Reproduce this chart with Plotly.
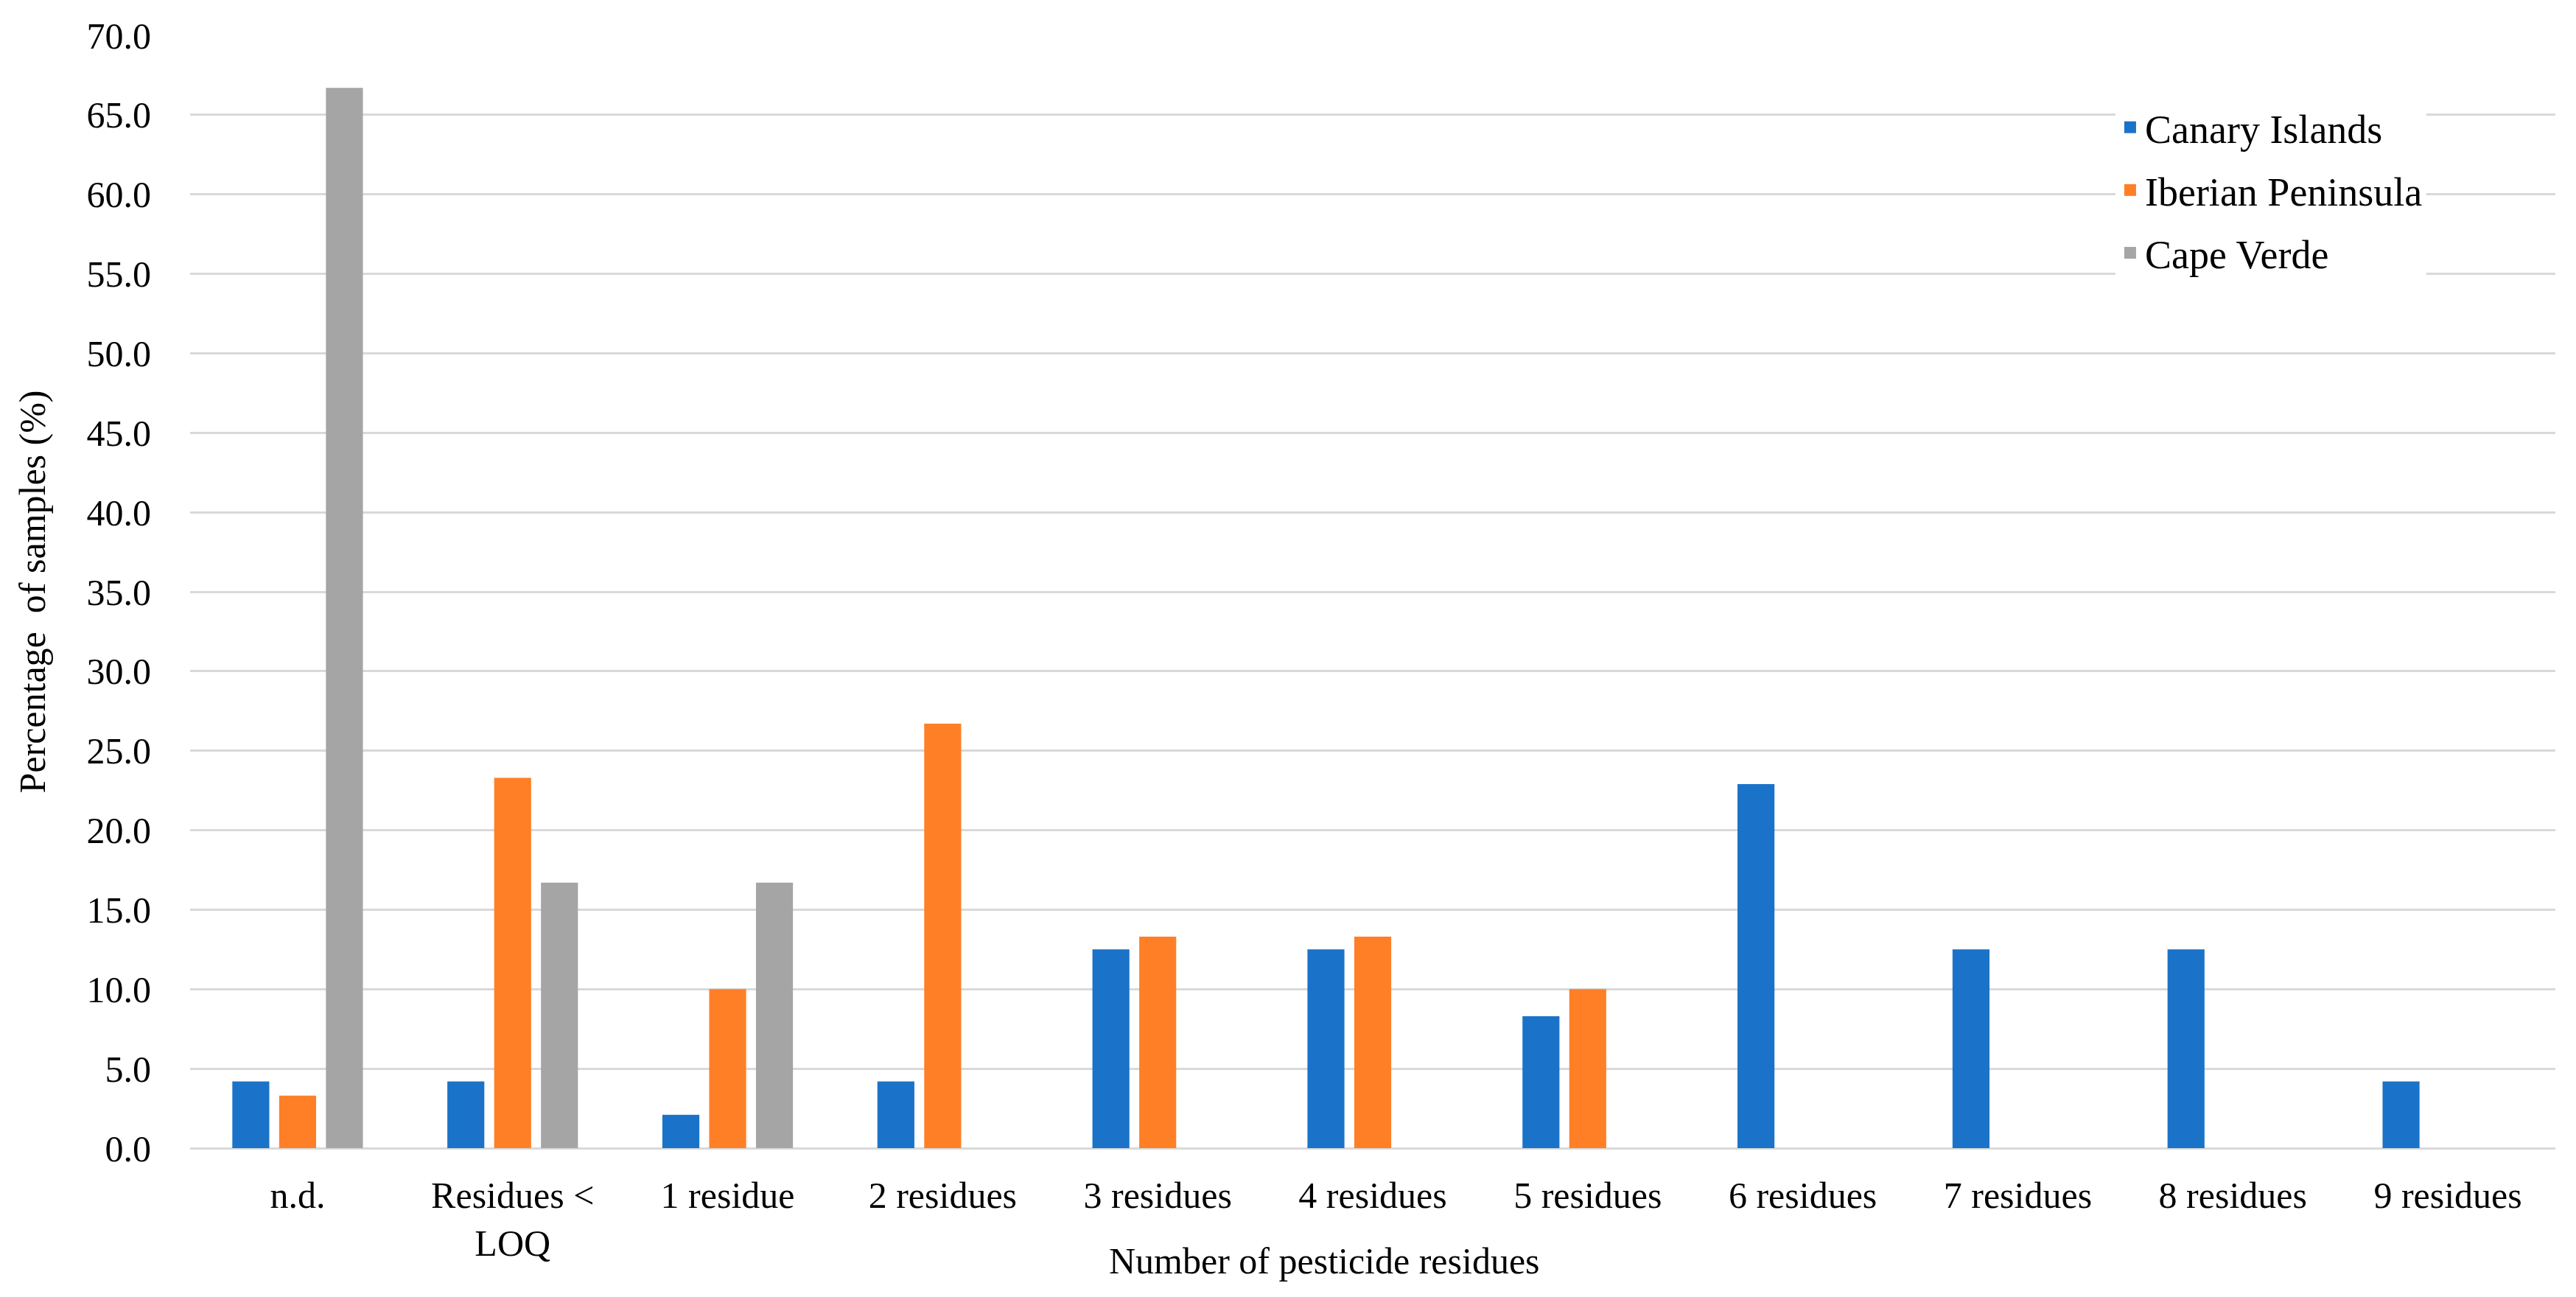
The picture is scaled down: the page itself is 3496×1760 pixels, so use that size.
import plotly.graph_objects as go

categories = ["n.d.", "Residues &lt;<br>LOQ", "1 residue", "2 residues", "3 residues",
              "4 residues", "5 residues", "6 residues", "7 residues", "8 residues", "9 residues"]
canary = [4.2, 4.2, 2.1, 4.2, 12.5, 12.5, 8.3, 22.9, 12.5, 12.5, 4.2]
iberian = [3.3, 23.3, 10.0, 26.7, 13.3, 13.3, 10.0, 0, 0, 0, 0]
cape_verde = [66.7, 16.7, 16.7, 0, 0, 0, 0, 0, 0, 0, 0]

series = [("Canary Islands", canary, "#1A73C8"),
          ("Iberian Peninsula", iberian, "#FF7F27"),
          ("Cape Verde", cape_verde, "#A5A5A5")]

FONT = "Times New Roman, Liberation Serif, serif"

fig = go.Figure()
for i, (name, vals, col) in enumerate(series):
    fig.add_trace(go.Bar(x=categories, y=vals, name=name, marker_color=col,
                         marker_line_width=0, legendgroup=f"g{i}", showlegend=False))
for i, (name, vals, col) in enumerate(series):
    # legend-only entries with larger square swatches
    fig.add_trace(go.Scatter(x=[None], y=[None], mode="markers", name=name,
                             marker=dict(symbol="square", size=22, color=col),
                             legendgroup=f"g{i}", showlegend=True))

fig.update_layout(
    width=3496, height=1760,
    paper_bgcolor="white", plot_bgcolor="white",
    margin=dict(l=250, r=36, t=37, b=210),
    barmode="group", bargap=0.347, bargroupgap=0.21,
    font=dict(family=FONT, size=50, color="black"),
    legend=dict(x=0.814, y=0.945, xanchor="left", yanchor="top",
                bgcolor="white", font=dict(size=54, family=FONT),
                tracegroupgap=12, itemsizing="trace"),
    xaxis=dict(showgrid=False, showline=False, ticks="",
               ticklabelstandoff=30,
               tickfont=dict(size=50, family=FONT)),
    yaxis=dict(range=[0, 70], dtick=5, tickformat=".1f", showgrid=True,
               gridcolor="#D9D9D9", gridwidth=3, zeroline=True,
               zerolinecolor="#D9D9D9", zerolinewidth=3, showline=False,
               ticks="", ticklen=0, ticklabelstandoff=52,
               title=dict(text="Percentage  of samples (%)", standoff=40,
                          font=dict(size=50, family=FONT)),
               tickfont=dict(size=50, family=FONT)),
    annotations=[dict(text="Number of pesticide residues", xref="paper", yref="paper",
                      x=(1789 - 250) / 3210, y=-0.1015, xanchor="center", yanchor="middle",
                      showarrow=False, font=dict(size=50, family=FONT))],
)

fig.write_html("out.html")
